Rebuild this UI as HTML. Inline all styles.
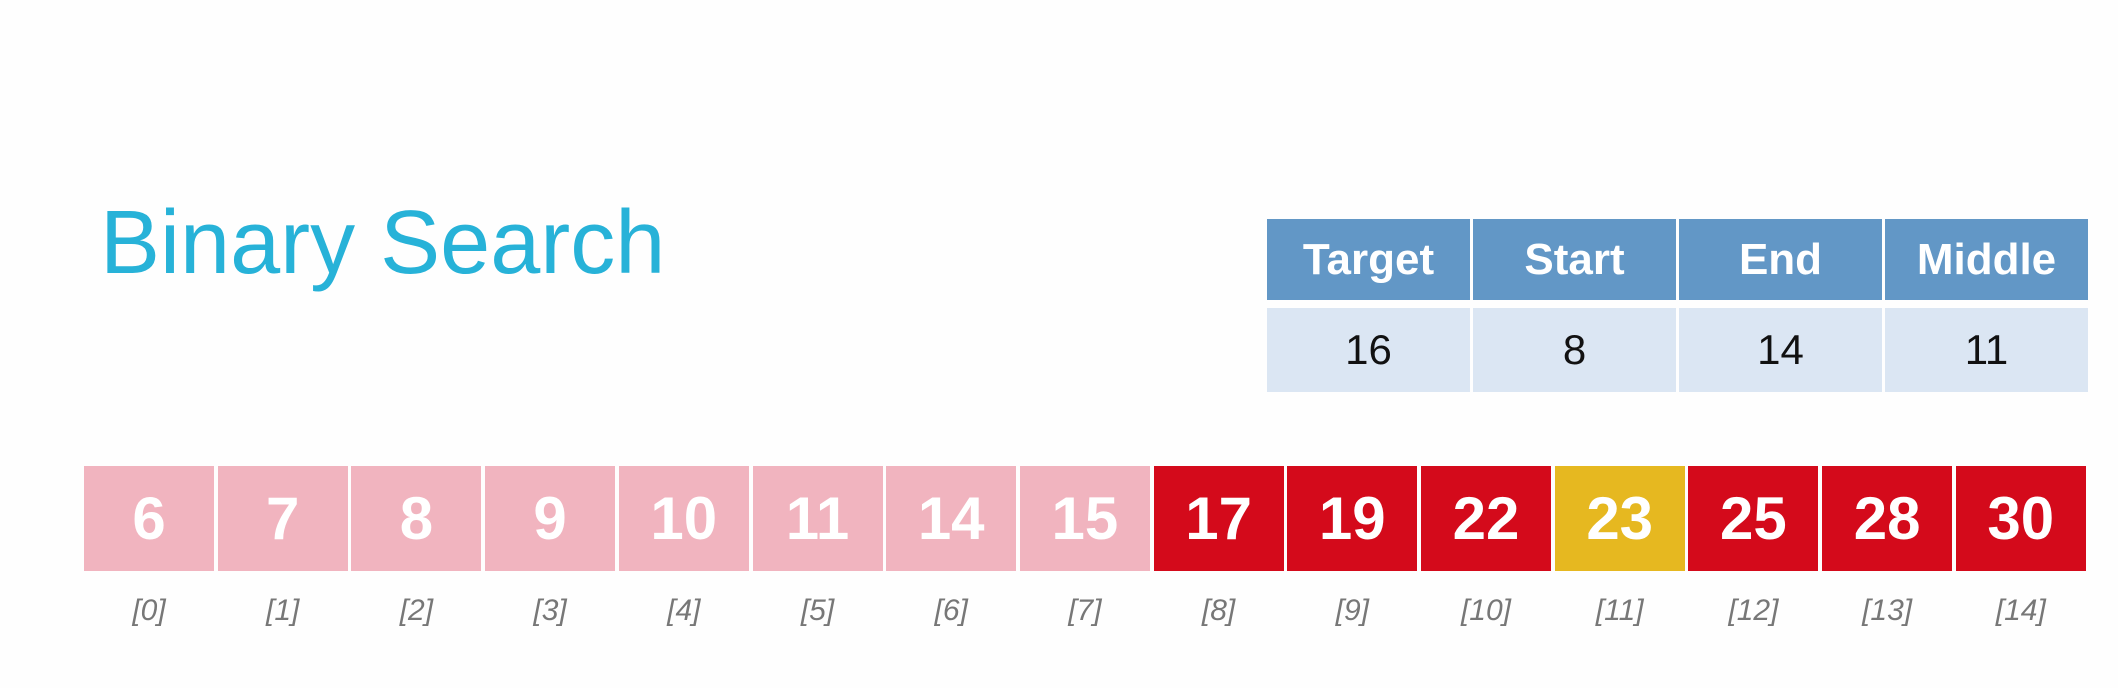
<!DOCTYPE html>
<html><head><meta charset="utf-8"><style>
body{margin:0;width:2118px;height:688px;background:#fefefe;position:relative;overflow:hidden;font-family:"Liberation Sans",sans-serif}
#title{position:absolute;left:100px;top:198px;font-size:90px;color:#27b2d8;line-height:1;letter-spacing:0px}
table{position:absolute;left:1267px;top:219px;border-collapse:separate;border-spacing:3px 0;margin:0 -3px}
th{background:#6297c6;color:#fff;font-size:44px;font-weight:bold;width:203px;height:81px;padding:0;text-align:center}
td{background:#dbe6f3;color:#111;font-size:42px;height:84px;padding:0;text-align:center;border-top:8px solid #fefefe}
.cell{position:absolute;top:466px;height:105px;display:flex;align-items:center;justify-content:center;color:#fff;font-weight:bold;font-size:60px}
.idx{position:absolute;top:594px;height:40px;text-align:center;font-style:italic;color:#777;font-size:30px}
</style></head><body>
<div id="title">Binary Search</div>
<table>
<tr><th>Target</th><th>Start</th><th>End</th><th>Middle</th></tr>
<tr><td>16</td><td>8</td><td>14</td><td>11</td></tr>
</table>
<div id="arr"></div>
<script>
const values=[6,7,8,9,10,11,14,15,17,19,22,23,25,28,30];
const states=['done','done','done','done','done','done','done','done','active','active','active','mid','active','active','active'];
const colors={done:'#f1b4bf',active:'#d40a1b',mid:'#e6b820'};
const x0=84,pitch=133.7,w=130;
const arr=document.getElementById('arr');
values.forEach((v,i)=>{
  const c=document.createElement('div');c.className='cell';
  
  
  c.style.left=(x0+i*pitch)+'px';c.style.width=w+'px';c.style.background=colors[states[i]];
  c.textContent=v;arr.appendChild(c);
  const l=document.createElement('div');l.className='idx';
  
  
  l.style.left=(x0+i*pitch)+'px';l.style.width=w+'px';l.textContent='['+i+']';arr.appendChild(l);
});
</script>
</body></html>
